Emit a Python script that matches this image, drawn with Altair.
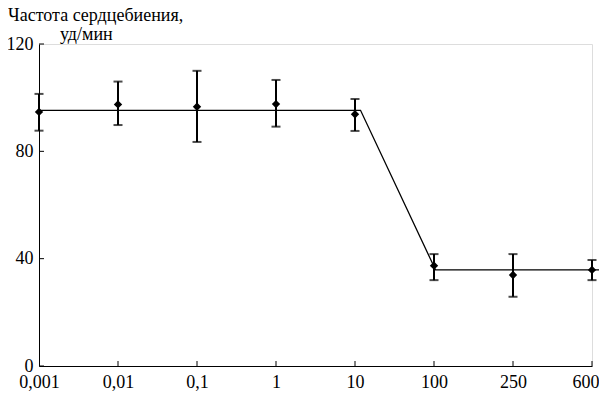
import altair as alt
import pandas as pd

doses = ["0,001", "0,01", "0,1", "1", "10", "100", "250", "600"]
positions = [0, 1, 2, 3, 4, 5, 6, 7]
means = [94.7, 97.5, 96.6, 97.6, 93.8, 37.4, 33.9, 35.8]
upper = [101.4, 106.0, 110.0, 106.6, 99.5, 41.7, 41.7, 39.5]
lower = [87.7, 89.8, 83.5, 89.2, 87.6, 32.0, 25.8, 32.0]
fit_x = [0, 4.07, 5.02, 7.2]
fit_y = [95.3, 95.3, 35.8, 35.8]
y_tick_values = [0, 40, 80, 120]
x_tick_values = [1, 2, 3, 4, 5, 6, 7]

W, H = 553, 322
FONT = "Liberation Serif"

pts = pd.DataFrame({"i": positions, "dose": doses, "m": means, "hi": upper, "lo": lower})
fit = pd.DataFrame({"i": fit_x, "m": fit_y})
yt = pd.DataFrame({"v": y_tick_values})
xt = pd.DataFrame({"i": x_tick_values})

label_expr = "[" + ",".join("'%s'" % d for d in doses) + "][datum.value]"

xscale = alt.Scale(domain=[0, 7], nice=False, zero=False)
yscale = alt.Scale(domain=[0, 120], nice=False)

xaxis = alt.Axis(values=positions, labelExpr=label_expr, grid=False, ticks=False, tickSize=0,
                 labelPadding=7, labelFont=FONT, labelFontSize=18, labelColor="black",
                 labelAlign=alt.ExprRef(expr="datum.value == 7 ? 'right' : 'center'"),
                 labelOffset=alt.ExprRef(expr="datum.value == 7 ? 7 : 0"),
                 domainColor="black", title=None, labelFlush=False)
yaxis = alt.Axis(values=y_tick_values, grid=False, ticks=False, tickSize=0,
                 labelPadding=6, labelFont=FONT, labelFontSize=18, labelColor="black",
                 domainColor="black", title=None)

base = alt.Chart(pts)

fit_line = alt.Chart(fit).mark_line(color="black", strokeWidth=1.3, clip=False).encode(
    x=alt.X("i:Q", scale=xscale, axis=xaxis),
    y=alt.Y("m:Q", scale=yscale, axis=yaxis),
)

err = base.mark_rule(color="black", strokeWidth=2).encode(
    x=alt.X("i:Q", scale=xscale), y=alt.Y("lo:Q", scale=yscale), y2="hi:Q"
)
cap_hi = base.mark_tick(color="black", orient="horizontal", size=9, thickness=2).encode(
    x=alt.X("i:Q", scale=xscale), y=alt.Y("hi:Q", scale=yscale)
)
cap_lo = base.mark_tick(color="black", orient="horizontal", size=9, thickness=2).encode(
    x=alt.X("i:Q", scale=xscale), y=alt.Y("lo:Q", scale=yscale)
)
markers = base.mark_point(shape="diamond", filled=True, color="black", size=70, opacity=1).encode(
    x=alt.X("i:Q", scale=xscale), y=alt.Y("m:Q", scale=yscale)
)

ytick_marks = alt.Chart(yt).mark_rule(color="black", strokeWidth=1).encode(
    y=alt.Y("v:Q", scale=yscale), x=alt.value(0), x2=alt.value(5)
)
xtick_marks = alt.Chart(xt).mark_rule(color="black", strokeWidth=1).encode(
    x=alt.X("i:Q", scale=xscale), y=alt.value(H), y2=alt.value(H - 5)
)

title1 = alt.Chart(pd.DataFrame({"t": ["Частота сердцебиения,"]})).mark_text(
    font=FONT, fontSize=18, align="left", baseline="alphabetic", color="black"
).encode(text="t:N", x=alt.value(-31), y=alt.value(-23))
title2 = alt.Chart(pd.DataFrame({"t": ["уд/мин"]})).mark_text(
    font=FONT, fontSize=18, align="left", baseline="alphabetic", color="black"
).encode(text="t:N", x=alt.value(21), y=alt.value(-4))

chart = alt.layer(
    fit_line, err, cap_hi, cap_lo, markers, ytick_marks, xtick_marks, title1, title2
).properties(
    width=W, height=H,
    autosize=alt.AutoSizeParams(type="none"),
    padding={"left": 31, "top": 36, "right": 7, "bottom": 27},
).configure_view(stroke=None).configure(background="white")

chart.save("out.html", embed_options={"renderer": "svg", "actions": False})
